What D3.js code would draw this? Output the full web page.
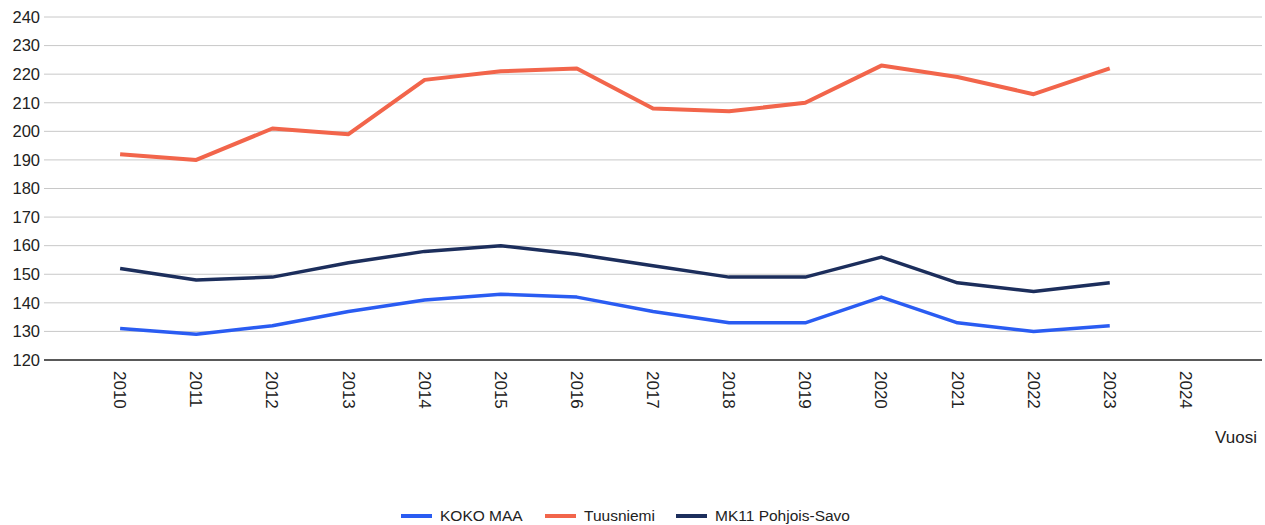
<!DOCTYPE html>
<html>
<head>
<meta charset="utf-8">
<script src="https://cdn.jsdelivr.net/npm/d3@7"></script>
<style>
  body { margin: 0; background: #fff; }
  text { font-family: "Liberation Sans", Arial, sans-serif; fill: #222; }
</style>
</head>
<body>
<div id="chart"></div>
<script>
const width = 1265, height = 525;

// data
const years = ["2010", "2011", "2012", "2013", "2014", "2015", "2016", "2017",
               "2018", "2019", "2020", "2021", "2022", "2023", "2024"];
const kokoMaa = [131, 129, 132, 137, 141, 143, 142, 137, 133, 133, 142, 133, 130, 132];
const tuusniemi = [192, 190, 201, 199, 218, 221, 222, 208, 207, 210, 223, 219, 213, 222];
const pohjoisSavo = [152, 148, 149, 154, 158, 160, 157, 153, 149, 149, 156, 147, 144, 147];
const yTicks = [120, 130, 140, 150, 160, 170, 180, 190, 200, 210, 220, 230, 240];

const series = [
    { name: "KOKO MAA", values: kokoMaa, color: "#2a5cf2", w: 3.5 },
    { name: "Tuusniemi", values: tuusniemi, color: "#f2654b", w: 4 },
    { name: "MK11 Pohjois-Savo", values: pohjoisSavo, color: "#1c2e5c", w: 3.5 }
];

const plotLeft = 44, plotRight = 1262, plotTop = 17, plotBottom = 360;

const svg = d3.select("#chart")
    .append("svg")
    .attr("width", width)
    .attr("height", height);

const x = d3.scalePoint().domain(years).range([plotLeft, plotRight]).padding(1);
const y = d3.scaleLinear().domain([120, 240]).range([plotBottom, plotTop]);

// gridlines
svg.append("g")
    .selectAll("line")
    .data(yTicks.filter(d => d !== 120))
    .enter()
    .append("line")
    .attr("x1", plotLeft)
    .attr("x2", plotRight)
    .attr("y1", d => y(d))
    .attr("y2", d => y(d))
    .attr("stroke", "#c8c8c8")
    .attr("stroke-width", 1);

// y labels
svg.append("g")
    .selectAll("text")
    .data(yTicks)
    .enter()
    .append("text")
    .attr("x", plotLeft - 4)
    .attr("y", d => y(d))
    .attr("dy", "0.35em")
    .attr("text-anchor", "end")
    .style("font-size", "16.5px")
    .text(d => d);

// baseline
svg.append("line")
    .attr("x1", plotLeft)
    .attr("x2", plotRight)
    .attr("y1", y(120))
    .attr("y2", y(120))
    .attr("stroke", "#222")
    .attr("stroke-width", 1.5);

// x labels, rotated
svg.append("g")
    .selectAll("text")
    .data(years)
    .enter()
    .append("text")
    .attr("transform", d => `translate(${x(d)},${plotBottom + 11}) rotate(90)`)
    .attr("dy", "0.35em")
    .attr("text-anchor", "start")
    .style("font-size", "17px")
    .text(d => d);

svg.append("text")
    .attr("x", 1257)
    .attr("y", 443)
    .attr("text-anchor", "end")
    .style("font-size", "17px")
    .text("Vuosi");

// lines
const line = d3.line()
    .x((d, i) => x(years[i]))
    .y(d => y(d));

svg.selectAll(".series")
    .data(series)
    .enter()
    .append("path")
    .attr("class", "series")
    .attr("fill", "none")
    .attr("stroke", d => d.color)
    .attr("stroke-width", d => d.w)
    .attr("stroke-linejoin", "round")
    .attr("d", d => line(d.values));

// legend
const legendX = [401, 545, 676];
const legend = svg.append("g")
    .selectAll("g")
    .data(series)
    .enter()
    .append("g")
    .attr("transform", (d, i) => `translate(${legendX[i]},516)`);

legend.append("line")
    .attr("x1", 0)
    .attr("x2", 31)
    .attr("stroke", d => d.color)
    .attr("stroke-width", 4);

legend.append("text")
    .attr("x", 39)
    .attr("dy", "0.35em")
    .style("font-size", "15.5px")
    .text(d => d.name);
</script>
</body>
</html>
